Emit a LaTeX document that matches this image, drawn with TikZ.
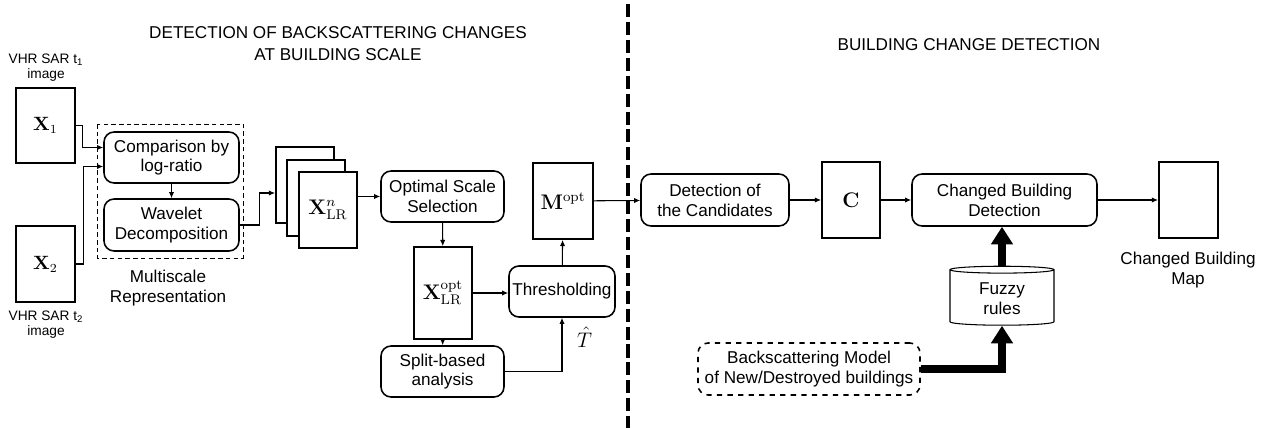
\documentclass[tikz,border=0pt]{standalone}
\usepackage[no-math]{fontspec}
\setmainfont{Liberation Sans}
\usepackage{tikz}
\usetikzlibrary{positioning,calc,arrows.meta,shapes.geometric}
\newcommand{\Mat}[1]{$\mathbf{#1}$}
\tikzset{
  every node/.style={font=\fontsize{9.75}{11.3}\selectfont, text=black},
  proc/.style 2 args={
    rectangle, rounded corners=2mm, draw, line width=0.9pt,
    align=center, minimum width=#1, minimum height=#2, inner sep=2pt
  },
  img/.style 2 args={
    rectangle, draw, line width=1pt, fill=white, inner sep=0pt,
    minimum width=#1, minimum height=#2, font=\fontsize{11.5}{13}\selectfont
  },
  note/.style={align=center},
  secttl/.style={align=center, font=\fontsize{9.75}{12.5}\selectfont},
  inlbl/.style={align=center, font=\fontsize{7.8}{8.6}\selectfont},
  flow/.style={-{Latex[length=3.5pt,width=3pt]}, line width=0.6pt},
  bigflow/.style={-{Triangle[length=10pt,width=12pt]}, line width=4pt, line join=miter}
}

\begin{document}
\begin{tikzpicture}[x=0.02cm,y=-0.02cm]
\useasboundingbox (0,0) rectangle (1268,429);

% =========================
% TITLES + SEPARATOR
% =========================
\node[secttl] (ttlA) at (338,44) {DETECTION OF BACKSCATTERING CHANGES\\AT BUILDING SCALE};
\node[secttl] (ttlB) at (969,45) {BUILDING CHANGE DETECTION};

\coordinate (sepTop) at (628,4);
\coordinate (sepBot) at (628,428);
\draw[line width=2.3pt, dash pattern=on 7.4pt off 2.8pt] (sepTop) -- (sepBot);

% =========================
% INPUT IMAGES
% =========================
\node[img={1.18cm}{1.5cm}, font=\fontsize{10.5}{12}\selectfont] (x1) at (45.5,125.5) {\Mat{X}$_1$};
\node[img={1.18cm}{1.52cm}, font=\fontsize{10.5}{12}\selectfont] (x2) at (45.5,264) {\Mat{X}$_2$};
\node[inlbl] (x1lbl) at (46,68)  {VHR SAR t\textsubscript{1}\\image};
\node[inlbl] (x2lbl) at (46,325) {VHR SAR t\textsubscript{2}\\image};

% =========================
% MULTISCALE REPRESENTATION
% =========================
\draw[line width=0.5pt, dash pattern=on 2.6pt off 1.8pt] (97,124) rectangle (243,258);
\node[proc={2.7cm}{1.02cm}] (cmp) at (171.5,157.5) {Comparison by\\log-ratio};
\node[proc={2.7cm}{1.04cm}] (wav) at (171.5,225) {Wavelet\\Decomposition};
\node[note] (msr) at (168,288) {Multiscale\\Representation};

\draw[flow] (x1.east) -- ++(7,0) |- ($(cmp.west)+(0,-10)$);
\draw[flow] (x2.east) -- ++(8,0) |- ($(cmp.west)+(0,9)$);
\draw[flow] (cmp) -- (wav);

% stack of log-ratio images
\foreach \nm/\cx/\cy in {lrC/305/185, lrB/316/198}{
  \node[img={1.16cm}{1.52cm}] (\nm) at (\cx,\cy) {};
}
\node[img={1.16cm}{1.52cm}] (lrA) at (328,210) {\Mat{X}$^{n}_{\mathrm{LR}}$};
\draw[flow] (wav.east) -- ++(20,0) |- ($(lrC.west)+(0,8)$);

% =========================
% SCALE SELECTION + THRESHOLDING
% =========================
\node[proc={2.46cm}{1.02cm}] (opt) at (442.5,196.5) {Optimal Scale\\Selection};
\node[img={1.16cm}{1.84cm}] (xopt) at (443,293) {\Mat{X}$^{\mathrm{opt}}_{\mathrm{LR}}$};
\node[proc={2.46cm}{1.02cm}] (split) at (442.5,371.5) {Split-based\\analysis};
\node[proc={2.12cm}{1.02cm}] (thr) at (562,291.5) {Thresholding};
\node[img={1.2cm}{1.52cm}] (mopt) at (563,201) {\Mat{M}$^{\mathrm{opt}}$};

\draw[flow] (lrA.east |- opt.west) -- (opt.west);
\draw[flow] (opt) -- (xopt);
\draw[flow] (xopt) -- (split);
\draw[flow] (xopt.east) -- (xopt.east -| thr.west);
\draw[flow] (split.east) -| (thr.south)
  node[pos=0.82, right=5pt, font=\fontsize{11.5}{13}\selectfont] (that) {$\hat{T}$};
\draw[flow] (thr) -- (mopt);

% =========================
% BUILDING CHANGE DETECTION
% =========================
\node[proc={2.96cm}{1.04cm}] (det) at (715,200) {Detection of\\the Candidates};
\node[img={1.16cm}{1.52cm}, font=\fontsize{13}{15}\selectfont] (cand) at (851,200) {\Mat{C}};
\node[proc={3.7cm}{1.04cm}] (cbd) at (1004.5,200) {Changed Building\\Detection};
\node[img={1.18cm}{1.52cm}] (map) at (1188.5,200) {};
\node[note] (maplbl) at (1188,270) {Changed Building\\Map};

\node[cylinder, shape border rotate=90, aspect=0.12, draw, line width=0.6pt,
      minimum width=2.08cm, minimum height=1.18cm, note] (fuzzy) at (1002,298.5) {Fuzzy\\rules};
\node[proc={4.44cm}{1.04cm}, dashed] (bsm) at (809,369) {Backscattering Model\\of New/Destroyed buildings};

\draw[flow] (mopt) -- (det);
\draw[flow] (det) -- (cand);
\draw[flow] (cand) -- (cbd);
\draw[flow] (cbd) -- (map);
\draw[bigflow] (fuzzy.north) -- (fuzzy.north |- cbd.south);
\draw[bigflow] (bsm.east) -| (fuzzy.south);

\end{tikzpicture}
\end{document}
